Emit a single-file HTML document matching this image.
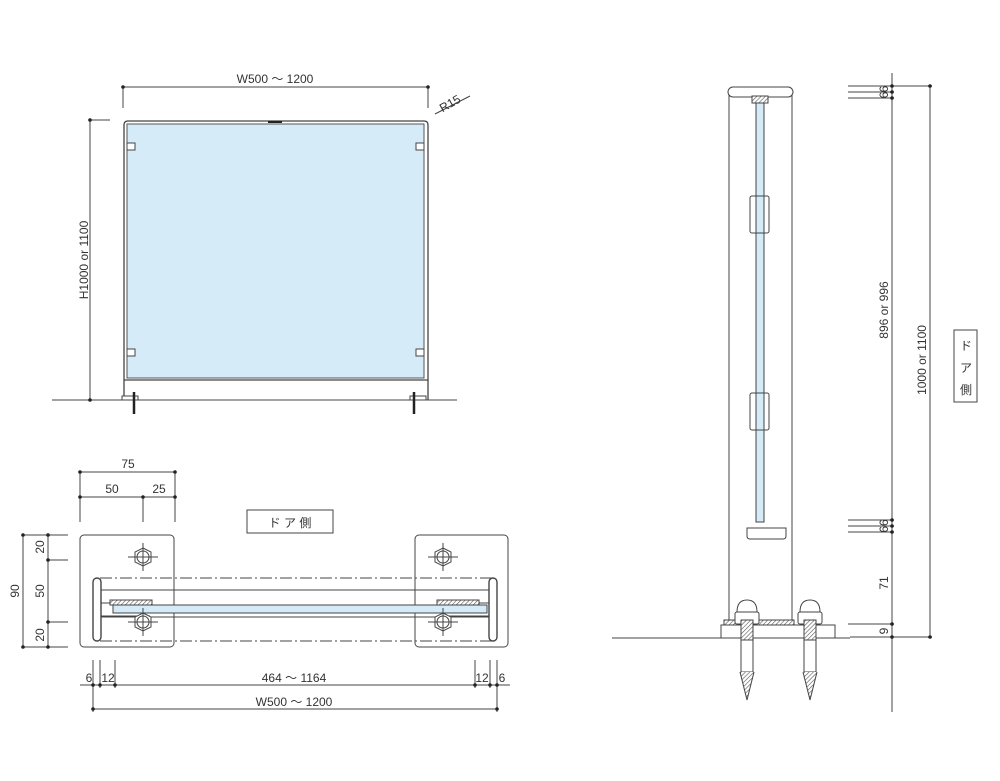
<!DOCTYPE html>
<html><head><meta charset="utf-8"><style>
html,body{margin:0;padding:0;background:#fff;}
svg{display:block;}
text{font-family:"Liberation Sans","Noto Sans CJK JP",sans-serif;fill:#333;font-size:12px;}
</style></head><body>
<svg width="1000" height="781" viewBox="0 0 1000 781" xmlns="http://www.w3.org/2000/svg">
<defs>
<pattern id="hatch" width="3" height="3" patternUnits="userSpaceOnUse" patternTransform="rotate(45)">
<rect width="3" height="3" fill="#fff"/><line x1="0" y1="0" x2="0" y2="3" stroke="#555" stroke-width="1.2"/></pattern>
</defs>
<g stroke="#444" stroke-width="1" fill="none">
<!-- FRONT VIEW -->
<line x1="123" y1="87" x2="428" y2="87"/>
<line x1="123" y1="87" x2="123" y2="108"/><line x1="428" y1="87" x2="428" y2="108"/>
<line x1="435" y1="114" x2="470" y2="96"/>
<line x1="90" y1="120" x2="110" y2="120"/>
<line x1="90" y1="120" x2="90" y2="400"/>
<line x1="52" y1="400" x2="457" y2="400"/>
<path d="M124 400 V125 Q124 121 128 121 H424 Q428 121 428 125 V400" stroke-width="1.3"/>
<rect x="127" y="124" width="297" height="254" fill="#d6ebf8" stroke="#555"/>
<line x1="124" y1="380" x2="428" y2="380" stroke-width="1.3"/>
<rect x="268" y="121" width="14" height="2" fill="#222" stroke="none"/>
<rect x="127" y="143" width="8" height="7" fill="#fff"/><rect x="416" y="143" width="8" height="7" fill="#fff"/>
<rect x="127" y="349" width="8" height="7" fill="#fff"/><rect x="416" y="349" width="8" height="7" fill="#fff"/>
<rect x="122" y="396" width="16" height="4" fill="#fff"/><rect x="410" y="396" width="16" height="4" fill="#fff"/>
<g stroke="#222" stroke-width="2.5"><line x1="134" y1="392" x2="134" y2="414"/><line x1="414" y1="392" x2="414" y2="414"/></g>
<!-- PLAN VIEW -->
<line x1="80" y1="472" x2="175" y2="472"/>
<line x1="80" y1="497" x2="175" y2="497"/>
<line x1="80" y1="472" x2="80" y2="522"/><line x1="175" y1="472" x2="175" y2="522"/><line x1="143" y1="497" x2="143" y2="522"/>
<rect x="247" y="510" width="86" height="23"/>
<rect x="80" y="535" width="94" height="112" rx="4"/>
<rect x="415" y="535" width="93" height="112" rx="4"/>
<line x1="100" y1="578" x2="495" y2="578" stroke-dasharray="12 3 2 3"/>
<line x1="100" y1="641" x2="495" y2="641" stroke-dasharray="12 3 2 3"/>
<line x1="100" y1="590" x2="490" y2="590"/>
<line x1="100" y1="617" x2="490" y2="617"/>
<line x1="100" y1="603" x2="150" y2="603"/><line x1="440" y1="603" x2="490" y2="603"/>
<line x1="100" y1="616" x2="150" y2="616"/><line x1="440" y1="616" x2="490" y2="616"/>
<rect x="113" y="605" width="374" height="8" fill="#d6ebf8"/>
<rect x="110" y="600" width="42" height="5" fill="url(#hatch)"/>
<rect x="437" y="600" width="42" height="5" fill="url(#hatch)"/>
<rect x="93" y="578" width="8" height="63" rx="4" fill="#fff" stroke-width="1.4"/>
<rect x="489" y="578" width="8" height="63" rx="4" fill="#fff" stroke-width="1.4"/>
<g>
<polygon points="143,548 151,552 151,562 143,566 135,562 135,552"/><circle cx="143" cy="557" r="6"/>
<line x1="128" y1="557" x2="158" y2="557"/><line x1="143" y1="543" x2="143" y2="571"/>
<polygon points="143,613 151,617 151,627 143,631 135,627 135,617" fill="#fff"/><circle cx="143" cy="622" r="6"/>
<line x1="128" y1="622" x2="158" y2="622"/><line x1="143" y1="608" x2="143" y2="636"/>
<polygon points="443,548 451,552 451,562 443,566 435,562 435,552"/><circle cx="443" cy="557" r="6"/>
<line x1="428" y1="557" x2="458" y2="557"/><line x1="443" y1="543" x2="443" y2="571"/>
<polygon points="443,613 451,617 451,627 443,631 435,627 435,617" fill="#fff"/><circle cx="443" cy="622" r="6"/>
<line x1="428" y1="622" x2="458" y2="622"/><line x1="443" y1="608" x2="443" y2="636"/>
</g>
<line x1="23" y1="535" x2="23" y2="647"/><line x1="48" y1="535" x2="48" y2="647"/>
<line x1="23" y1="535" x2="68" y2="535"/><line x1="23" y1="647" x2="68" y2="647"/>
<line x1="48" y1="560" x2="68" y2="560"/><line x1="48" y1="622" x2="68" y2="622"/>
<line x1="80" y1="685" x2="510" y2="685"/>
<line x1="93" y1="660" x2="93" y2="712"/><line x1="100" y1="660" x2="100" y2="688"/><line x1="115" y1="660" x2="115" y2="688"/>
<line x1="475" y1="660" x2="475" y2="688"/><line x1="490" y1="660" x2="490" y2="688"/><line x1="497" y1="660" x2="497" y2="712"/>
<line x1="93" y1="709" x2="497" y2="709"/>
<!-- SIDE VIEW -->
<line x1="729" y1="92" x2="729" y2="624"/><line x1="792" y1="92" x2="792" y2="624"/>
<rect x="728" y="87" width="65" height="10" rx="5" fill="#fff"/>
<rect x="752" y="96" width="16" height="7" fill="url(#hatch)"/>
<rect x="756" y="103" width="8" height="419" fill="#d6ebf8"/>
<rect x="750" y="196" width="19" height="37" rx="2" fill="#fff"/><rect x="756" y="196" width="8" height="37" fill="#d6ebf8"/>
<rect x="750" y="393" width="19" height="37" rx="2" fill="#fff"/><rect x="756" y="393" width="8" height="37" fill="#d6ebf8"/>
<path d="M747 528 H786 V536 Q786 539 783 539 H750 Q747 539 747 536 Z"/>
<rect x="721" y="625" width="114" height="13"/>
<rect x="724" y="620" width="70" height="5" fill="url(#hatch)"/>
<line x1="612" y1="638" x2="850" y2="638"/>
<g>
<path d="M737 612 Q737 600 747 600 Q757 600 757 612 Z"/><rect x="735" y="612" width="24" height="12" rx="2" fill="#fff"/>
<rect x="741" y="620" width="12" height="20" fill="url(#hatch)"/><rect x="741" y="640" width="12" height="32"/>
<path d="M740 672 L747 700 L754 672" fill="url(#hatch)"/>
<path d="M800 612 Q800 600 810 600 Q820 600 820 612 Z"/><rect x="798" y="612" width="24" height="12" rx="2" fill="#fff"/>
<rect x="804" y="620" width="12" height="20" fill="url(#hatch)"/><rect x="804" y="640" width="12" height="32"/>
<path d="M803 672 L810 700 L817 672" fill="url(#hatch)"/>
</g>
<line x1="892" y1="73" x2="892" y2="712"/>
<line x1="930" y1="86" x2="930" y2="637"/>
<line x1="848" y1="86" x2="932" y2="86"/><line x1="848" y1="92" x2="894" y2="92"/><line x1="848" y1="98" x2="894" y2="98"/>
<line x1="848" y1="520" x2="894" y2="520"/><line x1="848" y1="526" x2="894" y2="526"/><line x1="848" y1="532" x2="894" y2="532"/>
<line x1="848" y1="624" x2="894" y2="624"/><line x1="850" y1="637" x2="932" y2="637"/>
<rect x="954" y="330" width="23" height="72"/>
</g>
<g fill="#222">
<circle cx="123" cy="87" r="1.8"/><circle cx="428" cy="87" r="1.8"/><circle cx="90" cy="120" r="1.8"/><circle cx="90" cy="400" r="1.8"/>
<circle cx="80" cy="472" r="1.8"/><circle cx="175" cy="472" r="1.8"/><circle cx="80" cy="497" r="1.8"/><circle cx="143" cy="497" r="1.8"/><circle cx="175" cy="497" r="1.8"/>
<circle cx="23" cy="535" r="1.8"/><circle cx="23" cy="647" r="1.8"/><circle cx="48" cy="535" r="1.8"/><circle cx="48" cy="560" r="1.8"/><circle cx="48" cy="622" r="1.8"/><circle cx="48" cy="647" r="1.8"/>
<circle cx="93" cy="685" r="1.8"/><circle cx="100" cy="685" r="1.8"/><circle cx="115" cy="685" r="1.8"/><circle cx="475" cy="685" r="1.8"/><circle cx="490" cy="685" r="1.8"/><circle cx="497" cy="685" r="1.8"/>
<circle cx="93" cy="709" r="1.8"/><circle cx="497" cy="709" r="1.8"/>
<circle cx="892" cy="86" r="1.8"/><circle cx="892" cy="92" r="1.8"/><circle cx="892" cy="98" r="1.8"/><circle cx="892" cy="520" r="1.8"/><circle cx="892" cy="526" r="1.8"/><circle cx="892" cy="532" r="1.8"/><circle cx="892" cy="624" r="1.8"/><circle cx="892" cy="637" r="1.8"/>
<circle cx="930" cy="86" r="1.8"/><circle cx="930" cy="637" r="1.8"/>
</g>
<text x="275" y="83" text-anchor="middle">W500 ～ 1200</text>
<text transform="translate(452,107) rotate(-30)" text-anchor="middle">R15</text>
<text transform="translate(88,260) rotate(-90)" text-anchor="middle">H1000 or 1100</text>
<text x="128" y="468" text-anchor="middle">75</text>
<text x="112" y="493" text-anchor="middle">50</text>
<text x="159" y="493" text-anchor="middle">25</text>
<text x="290" y="527" text-anchor="middle" font-size="13">ド ア 側</text>
<text transform="translate(19,591) rotate(-90)" text-anchor="middle">90</text>
<text transform="translate(44,547) rotate(-90)" text-anchor="middle">20</text>
<text transform="translate(44,591) rotate(-90)" text-anchor="middle">50</text>
<text transform="translate(44,635) rotate(-90)" text-anchor="middle">20</text>
<text x="89" y="682" text-anchor="middle">6</text>
<text x="108" y="682" text-anchor="middle">12</text>
<text x="294" y="682" text-anchor="middle">464 ～ 1164</text>
<text x="482" y="682" text-anchor="middle">12</text>
<text x="502" y="682" text-anchor="middle">6</text>
<text x="294" y="706" text-anchor="middle">W500 ～ 1200</text>
<text transform="translate(888,89) rotate(-90)" text-anchor="middle" font-size="10">6</text>
<text transform="translate(888,95) rotate(-90)" text-anchor="middle" font-size="10">6</text>
<text transform="translate(888,310) rotate(-90)" text-anchor="middle">896 or 996</text>
<text transform="translate(888,526) rotate(-90)" text-anchor="middle" font-size="10">66</text>
<text transform="translate(888,583) rotate(-90)" text-anchor="middle">71</text>
<text transform="translate(888,631) rotate(-90)" text-anchor="middle">9</text>
<text transform="translate(926,360) rotate(-90)" text-anchor="middle">1000 or 1100</text>
<text x="966" y="350" text-anchor="middle" font-size="13">ド</text>
<text x="966" y="372" text-anchor="middle" font-size="13">ア</text>
<text x="966" y="394" text-anchor="middle" font-size="13">側</text>
</svg>
</body></html>
